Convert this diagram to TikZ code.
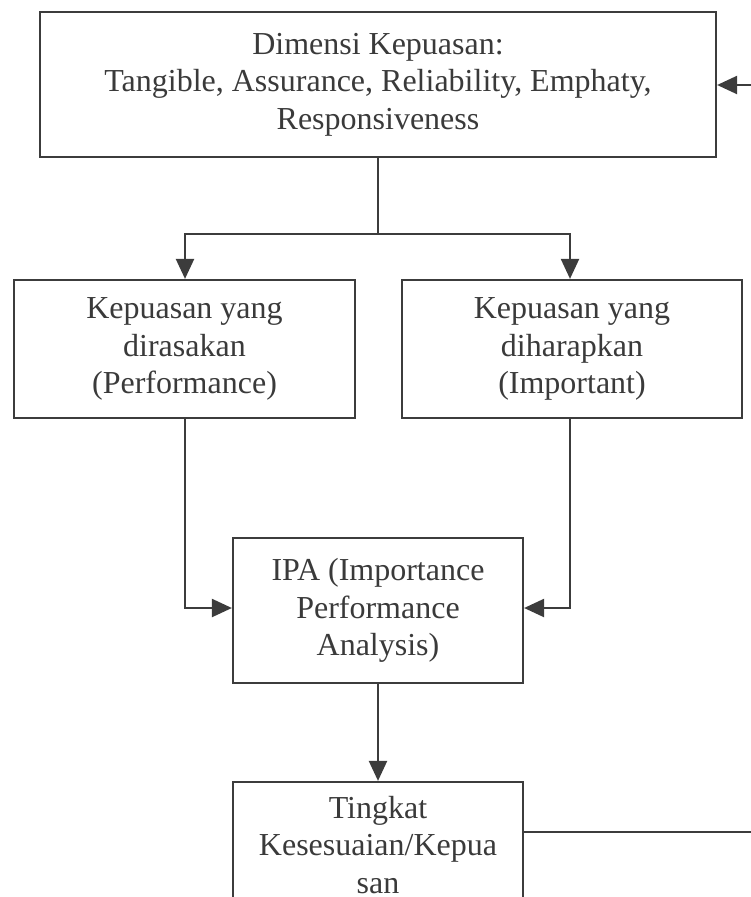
\documentclass[tikz,border=0pt]{standalone}
\usepackage{fontspec}
\setmainfont{Liberation Serif}
\usetikzlibrary{arrows.meta}
\definecolor{ink}{HTML}{3A3A3A}
\definecolor{linec}{HTML}{3C3C3C}
\begin{document}
\begin{tikzpicture}[x=1pt,y=-1pt,
  box/.style={draw=linec, line width=2.2pt, rectangle, align=center, inner sep=0pt,
    text=ink, font=\fontsize{32}{37.5}\selectfont},
  conn/.style={draw=linec, line width=2.2pt, -{Triangle[length=20pt,width=18pt]}},
  plain/.style={draw=linec, line width=2.2pt}]
\useasboundingbox (0,0) rectangle (751,897);
\clip (0,0) rectangle (751,897);
\node[box, minimum width=676pt, minimum height=145pt] (top) at (378,84.5)
  {Dimensi Kepuasan:\\Tangible, Assurance, Reliability, Emphaty,\\Responsiveness};
\node[box, minimum width=341pt, minimum height=138pt] (left) at (184.5,349)
  {Kepuasan yang\\dirasakan\\(Performance)};
\node[box, minimum width=340pt, minimum height=138pt] (right) at (572,349)
  {Kepuasan yang\\diharapkan\\(Important)};
\node[box, minimum width=290pt, minimum height=145pt] (ipa) at (378,610.5)
  {IPA (Importance\\Performance\\Analysis)};
\node[box, minimum width=290pt, minimum height=126pt] (ting) at (378,845)
  {Tingkat\\Kesesuaian/Kepua\\san};
\coordinate (split) at (378,234);
\coordinate (r1) at (775,832);
\coordinate (r2) at (775,85);
\coordinate (lj) at (185,608);
\coordinate (rj) at (570,608);
\draw[plain] (top.south) -- (split);
\draw[conn] (split) -| (left.north -| lj);
\draw[conn] (split) -| (right.north -| rj);
\draw[conn] (left.south -| lj) -- (lj) -- (ipa.west |- lj);
\draw[conn] (right.south -| rj) -- (rj) -- (ipa.east |- rj);
\draw[conn] (ipa.south) -- (ting.north);
\draw[conn] (ting.east |- r1) -- (r1) -- (r2) -- (top.east |- r2);
\end{tikzpicture}
\end{document}
